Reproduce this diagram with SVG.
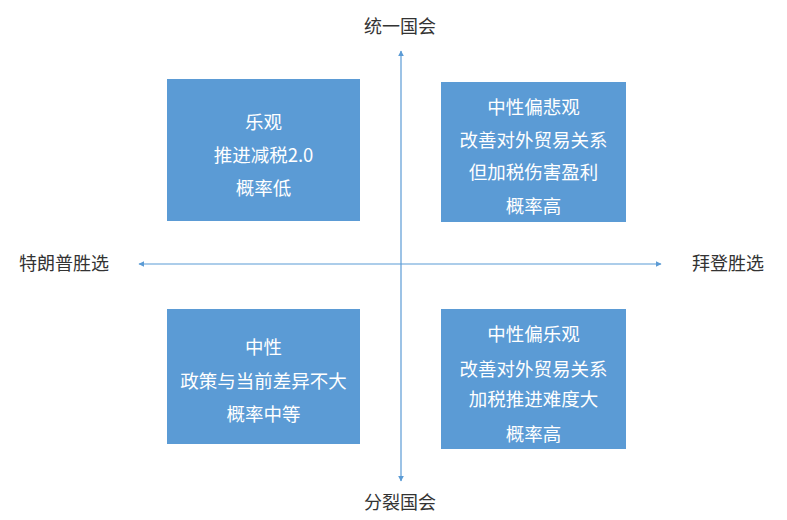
<svg xmlns="http://www.w3.org/2000/svg" width="787" height="520" viewBox="0 0 787 520">
<defs>
<style>
.box{fill:#5B9BD5;}
.bt{fill:#ffffff;font-family:"Noto Sans CJK SC","Noto Sans",sans-serif;font-size:18.5px;text-anchor:middle;}
.lbl{fill:#333333;font-family:"Noto Sans CJK SC","Noto Sans",sans-serif;font-size:18px;text-anchor:middle;}
.axis{stroke:#5B9BD5;stroke-width:1.2;fill:none;}
</style>
<marker id="arr" viewBox="0 0 10 10" refX="9" refY="5" markerWidth="6" markerHeight="6" orient="auto-start-reverse" markerUnits="userSpaceOnUse">
<path d="M0,0 L10,5 L0,10 z" fill="#5B9BD5"/>
</marker>
</defs>
<rect width="787" height="520" fill="#ffffff"/>
<g id="connectors">
<line class="axis" x1="401" y1="481" x2="401" y2="51" marker-start="url(#arr)" marker-end="url(#arr)"/>
<line class="axis" x1="139" y1="264" x2="661" y2="264" marker-start="url(#arr)" marker-end="url(#arr)"/>
</g>
<g id="q1">
<rect class="box" x="167" y="79" width="193" height="142"/>
<text class="bt" x="263.5" y="129">乐观</text>
<text class="bt" x="263.5" y="162">推进减税2.0</text>
<text class="bt" x="263.5" y="195">概率低</text>
</g>
<g id="q2">
<rect class="box" x="441" y="82" width="185" height="140"/>
<text class="bt" x="533.5" y="114">中性偏悲观</text>
<text class="bt" x="533.5" y="147">改善对外贸易关系</text>
<text class="bt" x="533.5" y="179">但加税伤害盈利</text>
<text class="bt" x="533.5" y="213">概率高</text>
</g>
<g id="q3">
<rect class="box" x="167" y="309" width="193" height="135"/>
<text class="bt" x="263.5" y="354">中性</text>
<text class="bt" x="263.5" y="388">政策与当前差异不大</text>
<text class="bt" x="263.5" y="421">概率中等</text>
</g>
<g id="q4">
<rect class="box" x="441" y="309" width="185" height="140"/>
<text class="bt" x="533.5" y="341">中性偏乐观</text>
<text class="bt" x="533.5" y="376">改善对外贸易关系</text>
<text class="bt" x="533.5" y="406">加税推进难度大</text>
<text class="bt" x="533.5" y="441">概率高</text>
</g>
<g id="top"><text class="lbl" x="400" y="33">统一国会</text></g>
<g id="bottom"><text class="lbl" x="400" y="509">分裂国会</text></g>
<g id="left"><text class="lbl" x="64" y="270">特朗普胜选</text></g>
<g id="right"><text class="lbl" x="728" y="270">拜登胜选</text></g>
</svg>
